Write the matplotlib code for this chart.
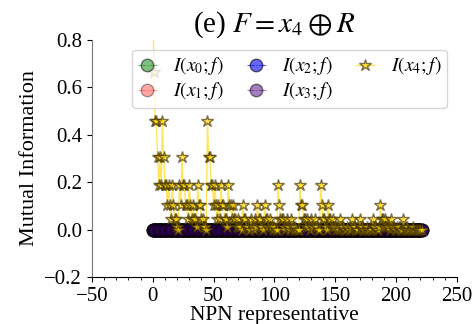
import matplotlib
matplotlib.use("Agg")
import matplotlib.pyplot as plt
from matplotlib.ticker import MultipleLocator

plt.rcParams["font.family"] = ["Liberation Serif", "DejaVu Serif"]
plt.rcParams["mathtext.fontset"] = "stix"

# NPN representatives of the 4-input functions R
npn_idx = list(range(222))

# I(x4; f) for each representative
mi_x4 = [
    1.000, 0.663, 0.456, 0.456, 0.304, 0.189, 0.304, 0.189, 0.456, 0.304,
    0.189, 0.189, 0.104, 0.189, 0.104, 0.046, 0.189, 0.104, 0.046, 0.046,
    0.011, 0.000, 0.189, 0.104, 0.304, 0.189, 0.189, 0.104, 0.104, 0.046,
    0.189, 0.104, 0.046, 0.104, 0.046, 0.046, 0.011, 0.189, 0.104, 0.104,
    0.046, 0.046, 0.011, 0.011, 0.000, 0.456, 0.304, 0.304, 0.189, 0.189,
    0.104, 0.189, 0.104, 0.046, 0.104, 0.046, 0.189, 0.104, 0.104, 0.046,
    0.046, 0.011, 0.189, 0.104, 0.104, 0.046, 0.104, 0.046, 0.046, 0.011,
    0.046, 0.011, 0.011, 0.000, 0.104, 0.046, 0.046, 0.011, 0.011, 0.000,
    0.000, 0.046, 0.011, 0.000, 0.046, 0.011, 0.104, 0.046, 0.046, 0.011,
    0.011, 0.000, 0.104, 0.046, 0.046, 0.011, 0.046, 0.011, 0.011, 0.000,
    0.011, 0.000, 0.000, 0.189, 0.104, 0.046, 0.046, 0.046, 0.011, 0.000,
    0.046, 0.011, 0.011, 0.000, 0.046, 0.011, 0.000, 0.011, 0.000, 0.000,
    0.000, 0.189, 0.104, 0.104, 0.046, 0.046, 0.011, 0.046, 0.011, 0.000,
    0.046, 0.011, 0.011, 0.046, 0.011, 0.011, 0.000, 0.000, 0.189, 0.104,
    0.046, 0.046, 0.011, 0.000, 0.104, 0.046, 0.046, 0.011, 0.046, 0.011,
    0.011, 0.000, 0.011, 0.000, 0.046, 0.011, 0.011, 0.000, 0.000, 0.000,
    0.011, 0.000, 0.000, 0.011, 0.046, 0.011, 0.011, 0.000, 0.000, 0.000,
    0.046, 0.011, 0.011, 0.000, 0.000, 0.000, 0.011, 0.000, 0.000, 0.000,
    0.000, 0.046, 0.011, 0.011, 0.000, 0.000, 0.011, 0.104, 0.046, 0.046,
    0.011, 0.046, 0.011, 0.011, 0.011, 0.000, 0.046, 0.011, 0.011, 0.000,
    0.000, 0.011, 0.011, 0.000, 0.000, 0.000, 0.046, 0.000, 0.000, 0.011,
    0.000, 0.000, 0.000, 0.000, 0.011, 0.000, 0.000, 0.000, 0.000, 0.000,
    0.000, 0.000,
]

# x0..x3 carry no information about f
mi_x0 = [0.0] * 222
mi_x1 = [0.0] * 222
mi_x2 = [0.0] * 222
mi_x3 = [0.0] * 222

fig, ax = plt.subplots(figsize=(4.76, 3.24), dpi=100)
fig.subplots_adjust(left=0.193, right=0.960, bottom=0.145, top=0.877)

circ = dict(marker="o", markersize=9, linestyle="-.", linewidth=0.8, markeredgecolor="k")
ax.plot(npn_idx, mi_x0, color="green", alpha=0.5, label="$I(x_0;f)$", **circ)
ax.plot(npn_idx, mi_x1, color="red", alpha=0.35, label="$I(x_1;f)$", **circ)
ax.plot(npn_idx, mi_x2, color="blue", alpha=0.6, label="$I(x_2;f)$", **circ)
ax.plot(npn_idx, mi_x3, color="indigo", alpha=0.5, label="$I(x_3;f)$", **circ)
ax.plot(npn_idx, mi_x4, color="gold", alpha=0.65, marker="*", markersize=9,
        markeredgecolor="#3a2a00", linewidth=1, label="$I(x_4;f)$")

ax.set_xlim(-50, 250)
ax.set_ylim(-0.2, 0.8)
ax.xaxis.set_major_locator(MultipleLocator(50))
ax.xaxis.set_minor_locator(MultipleLocator(10))
ax.yaxis.set_major_locator(MultipleLocator(0.2))
ax.tick_params(labelsize=15)
ax.spines["top"].set_visible(False)
ax.spines["right"].set_visible(False)
ax.spines["left"].set_color("#777777")
ax.set_xlabel("NPN representative", fontsize=15.5, labelpad=0)
ax.set_ylabel("Mutual Information", fontsize=16, labelpad=4)
ax.set_title(r"(e) $F = x_4 \oplus R$", fontsize=21, pad=5)
ax.legend(loc="upper right", ncol=3, fontsize=14, framealpha=0.8,
          handlelength=1.0, handletextpad=0.8, columnspacing=1.2,
          borderaxespad=0.5, labelspacing=0.15, borderpad=0.3)

fig.savefig("out.png")
